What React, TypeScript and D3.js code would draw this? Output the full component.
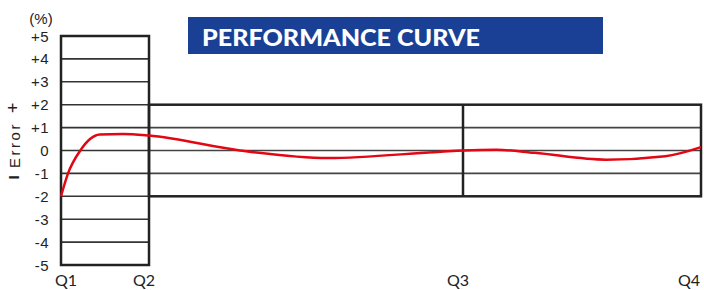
import React from 'react';
import * as d3 from 'd3';

// quarters along the x axis and the scale ticks
const quarters = ['Q1', 'Q2', 'Q3', 'Q4'];
const quarterPos = [0, 1, 2, 3];
const yTicks = [5, 4, 3, 2, 1, 0, -1, -2, -3, -4, -5];
const innerGrid = [4, 3, 2, 1, 0, -1, -2, -3, -4];
const bandGrid = [1, 0, -1];

// error curve (x in quarter units, y in %)
const curveX = [0, 0.08, 0.22, 0.33, 0.44, 0.7, 1.0, 1.29, 1.57, 1.93, 2.0, 2.14, 2.3, 2.6, 2.85, 3.0];
const curveY = [-2, -1, 0, 0.5, 0.7, 0.72, 0.65, 0, -0.33, -0.05, 0, 0.03, -0.1, -0.4, -0.25, 0.15];

const W = 704;
const H = 290;

export default function App() {
  const x = d3.scaleLinear().domain(quarterPos).range([61, 149, 463, 701]);
  const y = d3.scaleLinear().domain([5, -5]).range([36, 265]);

  const line = d3
    .line<number>()
    .x((d, i) => x(curveX[i]))
    .y(d => y(d))
    .curve(d3.curveMonotoneX);

  const fmt = (v: number) => (v > 0 ? '+' + v : String(v));
  const tickFont = '"Liberation Sans", Arial, sans-serif';
  const qFont = 'Lato, "Open Sans", sans-serif';

  const labelAnchor = ['start', 'middle', 'middle', 'start'];
  const labelDx = [-6, -5, -5, -23];

  return (
    <svg width={W} height={H} style={{ position: 'absolute', left: 0, top: 0 }}>
      <rect width={W} height={H} fill="#fff" />

      {/* title banner */}
      <rect x={188} y={17} width={415} height={37} fill="#1a4096" />
      <text
        x={202}
        y={46}
        fill="#fff"
        fontFamily={qFont}
        fontWeight={900}
        fontSize={22}
        textLength={278}
        lengthAdjust="spacingAndGlyphs"
      >
        PERFORMANCE CURVE
      </text>

      {/* grid inside the tall box */}
      {innerGrid.map(v => (
        <line key={'g' + v} x1={x(0)} x2={x(1)} y1={y(v)} y2={y(v)} stroke="#333" strokeWidth={1.6} />
      ))}
      {/* grid inside the band */}
      {bandGrid.map(v => (
        <line key={'b' + v} x1={x(1)} x2={x(3)} y1={y(v)} y2={y(v)} stroke="#444" strokeWidth={1.6} />
      ))}

      {/* boxes */}
      <rect x={x(0)} y={y(5)} width={x(1) - x(0)} height={y(-5) - y(5)} fill="none" stroke="#222" strokeWidth={2.5} />
      <rect x={x(1)} y={y(2)} width={x(3) - x(1)} height={y(-2) - y(2)} fill="none" stroke="#222" strokeWidth={2.5} />
      <line x1={x(2)} x2={x(2)} y1={y(2)} y2={y(-2)} stroke="#222" strokeWidth={2.5} />

      {/* curve */}
      <path d={line(curveY) || ''} fill="none" stroke="#e30613" strokeWidth={2.5} />

      {/* y ticks */}
      {yTicks.map(v => (
        <text
          key={'t' + v}
          x={49}
          y={y(v)}
          textAnchor="end"
          dominantBaseline="central"
          fontFamily={tickFont}
          fontSize={15}
          letterSpacing={0.5}
          fill="#222"
        >
          {fmt(v)}
        </text>
      ))}
      <text x={41} y={18} textAnchor="middle" dominantBaseline="central" fontFamily={tickFont} fontSize={15} fill="#222">
        (%)
      </text>

      {/* y axis title */}
      <g fontFamily={tickFont} fontSize={15} fill="#222" textAnchor="middle">
        <text transform={`translate(13,${y(2) + 3}) rotate(-90)`} dominantBaseline="central" fontSize={18}>+</text>
        <text transform={`translate(14,${y(0) - 5.5}) rotate(-90)`} dominantBaseline="central" letterSpacing={2.5}>Error</text>
        <text transform={`translate(13,${y(-1) + 4}) rotate(-90)`} dominantBaseline="central" fontWeight={700}>I</text>
      </g>

      {/* quarter labels */}
      {quarters.map((q, i) => (
        <text
          key={q}
          x={x(quarterPos[i]) + labelDx[i]}
          y={286}
          textAnchor={labelAnchor[i]}
          fontFamily={qFont}
          fontSize={16}
          fill="#222"
        >
          {q}
        </text>
      ))}
    </svg>
  );
}
